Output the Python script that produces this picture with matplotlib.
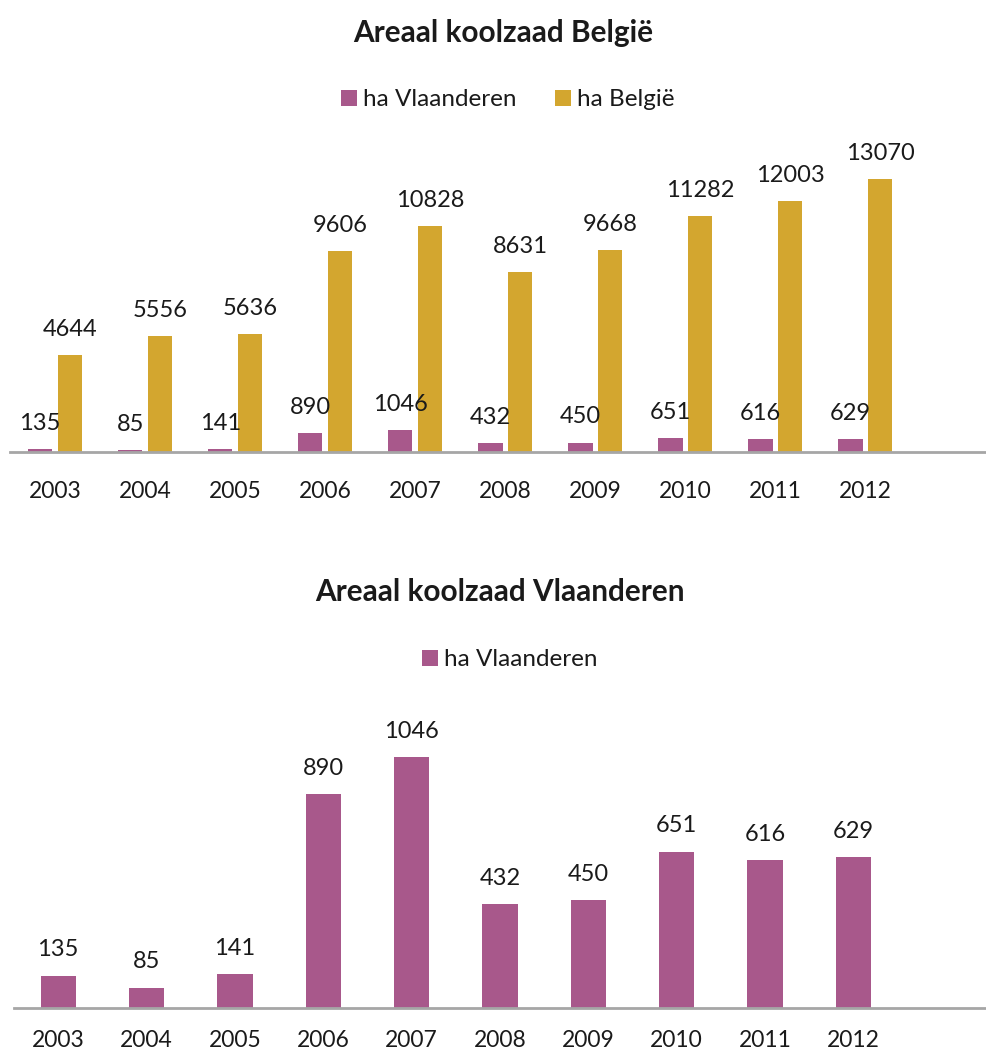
import numpy as np
import matplotlib
matplotlib.use("Agg")
import matplotlib.pyplot as plt

# data
years = ["2003", "2004", "2005", "2006", "2007", "2008", "2009", "2010", "2011", "2012"]
ha_vlaanderen = [135, 85, 141, 890, 1046, 432, 450, 651, 616, 629]
ha_belgie = [4644, 5556, 5636, 9606, 10828, 8631, 9668, 11282, 12003, 13070]

PURPLE = "#A8588B"
GOLD = "#D3A62F"
AXIS_GREY = "#A6A6A6"
TXT = "#1a1a1a"

plt.rcParams["font.family"] = ["Lato", "DejaVu Sans"]

W, H = 986, 1052
fig = plt.figure(figsize=(W / 100, H / 100), dpi=100)


def px_axes(left, right, top, bottom):
    # axes box in pixel coords of the reference image
    return fig.add_axes([left / W, 1 - bottom / H, (right - left) / W, (bottom - top) / H])


def style(ax, pad):
    for s in ("top", "right", "left"):
        ax.spines[s].set_visible(False)
    ax.spines["bottom"].set_color(AXIS_GREY)
    ax.spines["bottom"].set_linewidth(2)
    ax.set_yticks([])
    ax.tick_params(axis="x", length=0, pad=pad, labelsize=16.5, labelcolor=TXT)


x = np.arange(len(years))

# ---- top chart: Belgie + Vlaanderen
ax1 = px_axes(10, 986, 118, 452)
w = 0.27
b1 = ax1.bar(x - 0.3 + w / 2, ha_vlaanderen, w, color=PURPLE, label="ha Vlaanderen")
b2 = ax1.bar(x + 0.3 - w / 2, ha_belgie, w, color=GOLD, label="ha België")
ax1.bar_label(b1, padding=11, fontsize=17, color=TXT)
ax1.bar_label(b2, padding=11, fontsize=17, color=TXT)
ax1.set_xlim(-0.5, 10.34)
ax1.set_ylim(0, 16000)
ax1.set_xticks(x, years)
style(ax1, 21)
fig.text(503 / W, 1 - 33 / H, "Areaal koolzaad België", ha="center", va="center",
         fontsize=21.4, fontweight="bold", color=TXT)
ax1.legend(loc="center", bbox_to_anchor=(508 / W, 1 - 100 / H), bbox_transform=fig.transFigure,
           ncol=2, frameon=False, fontsize=17.5, handlelength=0.65, handleheight=0.65,
           handletextpad=0.25, columnspacing=1.6, labelcolor=TXT)

# ---- bottom chart: Vlaanderen only
ax2 = px_axes(14, 986, 696, 1008)
b3 = ax2.bar(x, ha_vlaanderen, 0.4, color=PURPLE, label="ha Vlaanderen")
ax2.bar_label(b3, padding=11, fontsize=17, color=TXT)
ax2.set_xlim(-0.5, 10.5)
ax2.set_ylim(0, 1300)
ax2.set_xticks(x, years)
style(ax2, 16)
fig.text(500 / W, 1 - 592 / H, "Areaal koolzaad Vlaanderen", ha="center", va="center",
         fontsize=21.4, fontweight="bold", color=TXT)
ax2.legend(loc="center", bbox_to_anchor=(510 / W, 1 - 660 / H), bbox_transform=fig.transFigure,
           frameon=False, fontsize=17.5, handlelength=0.65, handleheight=0.65,
           handletextpad=0.25, labelcolor=TXT)

fig.savefig("out.png", dpi=100)
